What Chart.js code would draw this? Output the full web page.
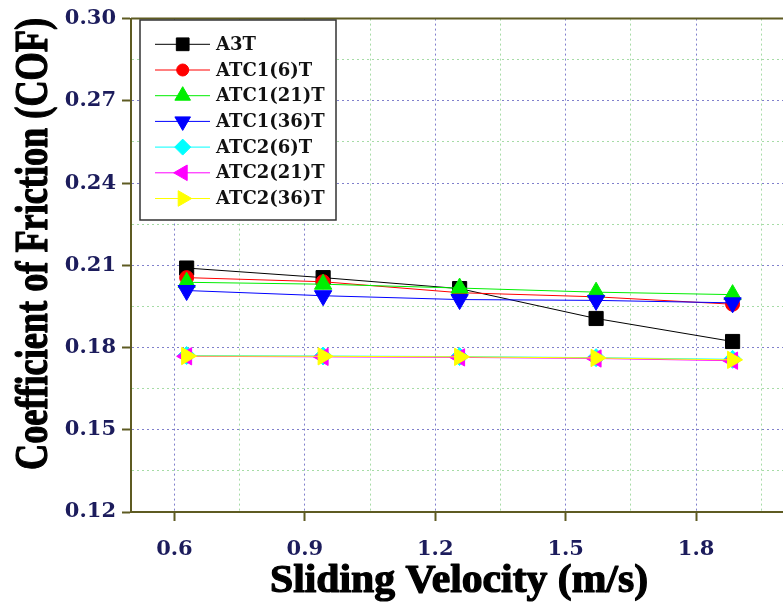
<!DOCTYPE html>
<html lang="en">
<head>
    <meta charset="UTF-8">
    <title>Coefficient of Friction vs Sliding Velocity</title>
    <style>
        body {
            margin: 0;
            padding: 0;
            background: #ffffff;
        }
        #wrap {
            width: 783px;
            height: 607px;
        }
    </style>
    <script src="https://cdn.jsdelivr.net/npm/chart.js"></script>
</head>
<body>
    <div id="wrap">
        <canvas id="cof-chart" width="783" height="607"></canvas>
    </div>

    <script>
        // Sliding velocity (m/s)
        const velocity = [0.628, 0.942, 1.256, 1.570, 1.884];

        // COF for each sample
        const a3t     = [0.209, 0.2055, 0.2015, 0.1906, 0.1822];
        const atc1_6  = [0.2055, 0.2040, 0.2000, 0.1985, 0.1958];
        const atc1_21 = [0.2038, 0.2031, 0.2017, 0.2002, 0.1993];
        const atc1_36 = [0.2008, 0.1989, 0.1975, 0.1972, 0.1963];
        const atc2_6  = [0.1771, 0.1769, 0.1767, 0.1763, 0.1757];
        const atc2_21 = [0.1768, 0.1766, 0.1764, 0.1760, 0.1752];
        const atc2_36 = [0.1769, 0.1768, 0.1766, 0.1762, 0.1755];

        const seriesNames = ['A3T', 'ATC1(6)T', 'ATC1(21)T', 'ATC1(36)T', 'ATC2(6)T', 'ATC2(21)T', 'ATC2(36)T'];

        // tick labels
        const xMajorTicks = [0.6, 0.9, 1.2, 1.5, 1.8];
        const xMinorTicks = [0.75, 1.05, 1.35, 1.65, 1.95];
        const yMajorTicks = [0.12, 0.15, 0.18, 0.21, 0.24, 0.27, 0.30];
        const yMinorTicks = [0.135, 0.165, 0.195, 0.225, 0.255, 0.285];

        const xTitle = 'Sliding Velocity (m/s)';
        const yTitle = 'Coefficient of Friction (COF)';

        const allSeries = [a3t, atc1_6, atc1_21, atc1_36, atc2_6, atc2_21, atc2_36];
        const colors = ['#000000', '#ff0000', '#00ee00', '#0000ff', '#00ffff', '#ff00ff', '#ffff00'];
        const styles = [
            { pointStyle: 'rect', rotation: 0, radius: 10 },
            { pointStyle: 'circle', rotation: 0, radius: 7 },
            { pointStyle: 'triangle', rotation: 0, radius: 10 },
            { pointStyle: 'triangle', rotation: 180, radius: 10 },
            { pointStyle: 'rectRot', rotation: 0, radius: 9 },
            { pointStyle: 'triangle', rotation: 270, radius: 10 },
            { pointStyle: 'triangle', rotation: 90, radius: 10 }
        ];

        const axisColor = '#5e5b22';
        const tickFont = { family: "'DejaVu Serif', serif", size: 21, weight: 'bold' };
        const titleFont = "'Liberation Serif', serif";

        const isMajor = (list, v) => list.some(t => Math.abs(t - v) < 1e-6);

        const datasets = allSeries.map((vals, i) => ({
            label: seriesNames[i],
            data: vals.map((v, j) => ({ x: velocity[j], y: v })),
            borderColor: colors[i],
            backgroundColor: colors[i],
            borderWidth: 1,
            pointStyle: styles[i].pointStyle,
            rotation: styles[i].rotation,
            pointRadius: styles[i].radius,
            pointBorderWidth: 1,
            order: allSeries.length - i
        }));

        // draws a title squeezed/stretched to a given width (with a thin outline for weight)
        function fitText(ctx, text, size, width) {
            ctx.font = 'bold ' + size + 'px ' + titleFont;
            const w = ctx.measureText(text).width;
            ctx.scale(width / w, 1);
            ctx.textAlign = 'center';
            ctx.textBaseline = 'alphabetic';
            ctx.strokeStyle = '#000000';
            ctx.lineWidth = 1.2;
            ctx.lineJoin = 'round';
            ctx.fillText(text, 0, 0);
            ctx.strokeText(text, 0, 0);
        }

        // legend box, axis titles and the top frame line
        const extras = {
            id: 'extras',
            afterDraw(chart) {
                const ctx = chart.ctx;
                const area = chart.chartArea;
                ctx.save();
                ctx.strokeStyle = axisColor;
                ctx.lineWidth = 2;
                ctx.beginPath();
                ctx.moveTo(area.left, area.top);
                ctx.lineTo(area.right, area.top);
                ctx.stroke();

                const bx = 140, by = 20, bw = 196, bh = 200;
                ctx.fillStyle = '#ffffff';
                ctx.fillRect(bx, by, bw, bh);
                ctx.strokeStyle = '#333333';
                ctx.lineWidth = 1.5;
                ctx.strokeRect(bx, by, bw, bh);

                ctx.font = "bold 18px 'DejaVu Serif', serif";
                ctx.textBaseline = 'middle';
                seriesNames.forEach((name, i) => {
                    const y = 44.3 + i * 25.7;
                    ctx.strokeStyle = colors[i];
                    ctx.fillStyle = colors[i];
                    ctx.lineWidth = 1;
                    ctx.beginPath();
                    ctx.moveTo(155, y);
                    ctx.lineTo(210, y);
                    ctx.stroke();
                    Chart.helpers.drawPoint(ctx, {
                        pointStyle: styles[i].pointStyle,
                        rotation: styles[i].rotation,
                        radius: styles[i].radius - 1,
                        borderWidth: 1
                    }, 182.7, y);
                    ctx.fillStyle = '#111111';
                    ctx.fillText(name, 216, y + 1);
                });
                ctx.restore();

                ctx.save();
                ctx.fillStyle = '#000000';
                ctx.translate(459, 592);
                fitText(ctx, xTitle, 39, 378);
                ctx.restore();

                ctx.save();
                ctx.fillStyle = '#000000';
                ctx.translate(46.5, 244);
                ctx.rotate(-Math.PI / 2);
                fitText(ctx, yTitle, 46, 452);
                ctx.restore();
            }
        };

        new Chart(document.getElementById('cof-chart'), {
            type: 'line',
            data: { datasets: datasets },
            plugins: [extras],
            options: {
                responsive: false,
                animation: false,
                layout: { autoPadding: false, padding: { top: 16, right: 0, left: 0, bottom: 0 } },
                plugins: {
                    legend: { display: false },
                    tooltip: { enabled: false }
                },
                scales: {
                    x: {
                        type: 'linear',
                        min: 0.5,
                        max: 2.0,
                        afterBuildTicks(scale) {
                            scale.ticks = xMajorTicks.concat(xMinorTicks).sort((a, b) => a - b).map(v => ({ value: v }));
                        },
                        afterFit(scale) { scale.height = 95; },
                        ticks: {
                            autoSkip: false,
                            maxRotation: 0,
                            padding: 16,
                            color: '#1c1c5c',
                            font: tickFont,
                            callback: v => isMajor(xMajorTicks, v) ? v.toFixed(1) : ''
                        },
                        grid: {
                            color: c => isMajor(xMajorTicks, c.tick.value) ? '#8080cc' : '#a6dca6',
                            lineWidth: 1,
                            tickLength: 9,
                            tickWidth: 2,
                            tickColor: c => isMajor(xMajorTicks, c.tick.value) ? axisColor : 'rgba(0,0,0,0)'
                        },
                        border: { color: axisColor, width: 2, dash: [2, 3] },
                        title: { display: false }
                    },
                    y: {
                        type: 'linear',
                        min: 0.12,
                        max: 0.30,
                        afterBuildTicks(scale) {
                            scale.ticks = yMajorTicks.concat(yMinorTicks).sort((a, b) => a - b).map(v => ({ value: v }));
                        },
                        afterFit(scale) { scale.width = 131; },
                        ticks: {
                            autoSkip: false,
                            padding: 6,
                            color: '#1c1c5c',
                            font: tickFont,
                            callback: v => isMajor(yMajorTicks, v) ? v.toFixed(2) : ''
                        },
                        grid: {
                            color: c => isMajor(yMajorTicks, c.tick.value) ? '#8080cc' : '#a6dca6',
                            lineWidth: 1,
                            tickLength: 9,
                            tickWidth: 2,
                            tickColor: c => isMajor(yMajorTicks, c.tick.value) ? axisColor : 'rgba(0,0,0,0)'
                        },
                        border: { color: axisColor, width: 2, dash: [2, 3] },
                        title: { display: false }
                    }
                }
            }
        });
    </script>
</body>
</html>
